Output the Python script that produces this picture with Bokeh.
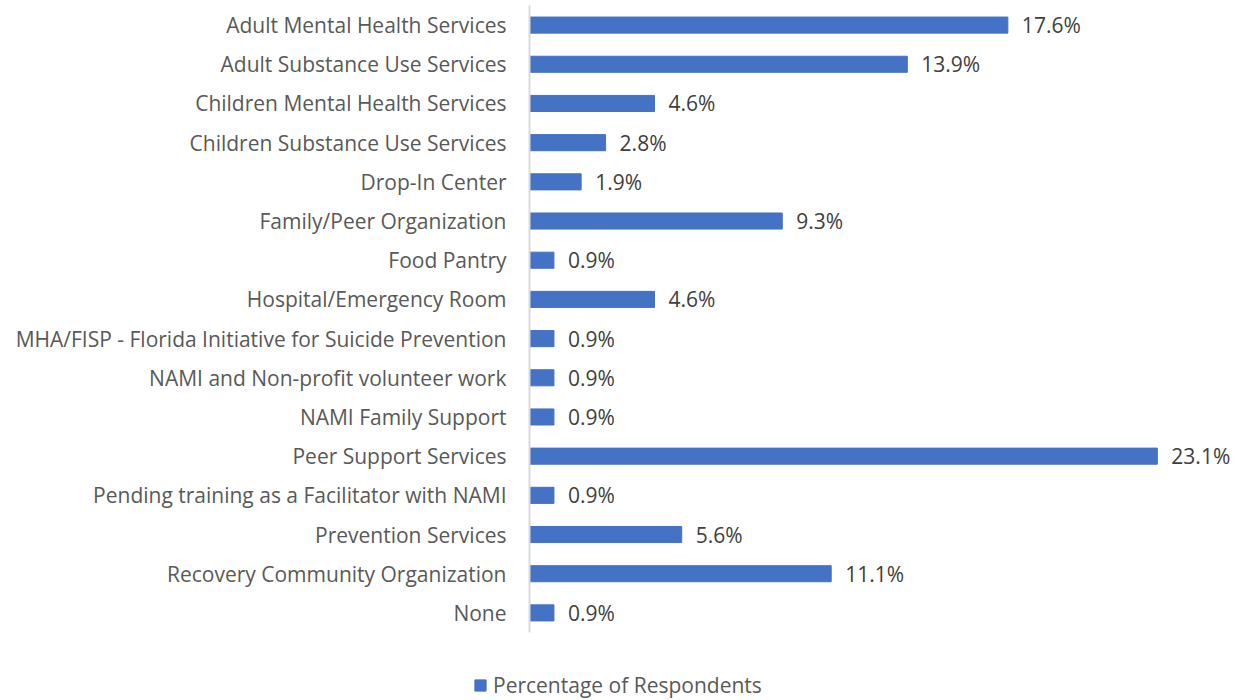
from bokeh.plotting import figure
from bokeh.layouts import column
from bokeh.models import ColumnDataSource, Range1d, FactorRange, Legend, LegendItem
from bokeh.core.properties import value
from bokeh.embed import file_html
from bokeh.resources import INLINE

categories = [
    "Adult Mental Health Services",
    "Adult Substance Use Services",
    "Children Mental Health Services",
    "Children Substance Use Services",
    "Drop-In Center",
    "Family/Peer Organization",
    "Food Pantry",
    "Hospital/Emergency Room",
    "MHA/FISP - Florida Initiative for Suicide Prevention",
    "NAMI and Non-profit volunteer work",
    "NAMI Family Support",
    "Peer Support Services",
    "Pending training as a Facilitator with NAMI",
    "Prevention Services",
    "Recovery Community Organization",
    "None",
]
percentages = [17.6, 13.9, 4.6, 2.8, 1.9, 9.3, 0.9, 4.6, 0.9, 0.9, 0.9, 23.1, 0.9, 5.6, 11.1, 0.9]
series_name = "Percentage of Respondents"

FONT = "Open Sans"
BLUE = "#4472C4"
FS = "21px"

src = ColumnDataSource(dict(
    cat=categories,
    val=percentages,
    lbl=[f"{v:.1f}%" for v in percentages],
))

W = 1231
LEFT = 529
p = figure(
    width=W, height=640,
    y_range=FactorRange(factors=list(reversed(categories)), range_padding=0),
    x_range=Range1d(0, (W - LEFT) / 27.18),
    output_backend="svg", toolbar_location=None,
    min_border_left=LEFT, min_border_right=0, min_border_top=5, min_border_bottom=8,
)
p.frame_align = False
p.outline_line_color = None
p.xgrid.visible = False
p.ygrid.visible = False
p.xaxis.visible = False

bars = p.hbar(y="cat", right="val", left=0, height=0.41, source=src,
              fill_color=BLUE, line_color=BLUE)
p.text(x="val", y="cat", text="lbl", source=src, x_offset=14,
       text_align="left", text_baseline="middle",
       text_font=value(FONT), text_font_size=FS, text_color="#404040")

ya = p.yaxis[0]
ya.axis_line_color = "#d9d9d9"
ya.axis_line_width = 2
ya.major_tick_line_color = None
ya.minor_tick_line_color = None
ya.major_label_standoff = 17
ya.major_label_text_font = FONT
ya.major_label_text_font_size = FS
ya.major_label_text_color = "#595959"

# legend strip below the chart (own full-width frame; the key glyph's data lie outside its ranges)
lg = figure(
    width=W, height=60,
    y_range=FactorRange(factors=list(reversed(categories)), range_padding=0),
    x_range=Range1d(-100, -99),
    output_backend="svg", toolbar_location=None,
    min_border_left=0, min_border_right=0, min_border_top=0, min_border_bottom=0,
)
lg.frame_align = False
lg.axis.visible = False
lg.grid.visible = False
lg.outline_line_color = None
key = lg.hbar(y="cat", right="val", left=0, height=0.41, source=src,
              fill_color=BLUE, line_color=BLUE)

legend = Legend(
    items=[LegendItem(label=series_name, renderers=[key])],
    location=(473, 1), orientation="horizontal",
    padding=0, margin=0, spacing=0,
    glyph_width=14, glyph_height=14, label_standoff=6, label_height=20,
    label_text_font=FONT, label_text_font_size=FS, label_text_color="#595959",
    border_line_color=None, background_fill_alpha=0,
)
lg.add_layout(legend, "center")

layout = column(p, lg, spacing=0)
open("out.html", "w").write(file_html(layout, INLINE))
